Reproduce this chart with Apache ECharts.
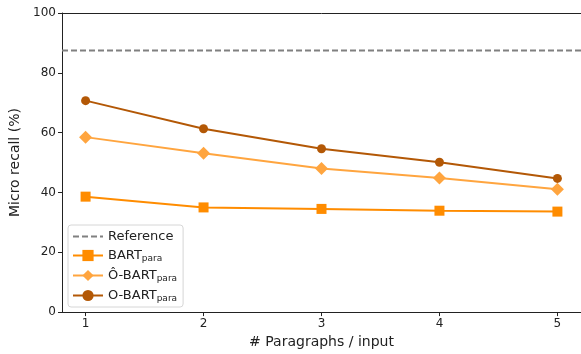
<!DOCTYPE html>
<html>
<head>
<meta charset="utf-8">
<script src="https://cdn.jsdelivr.net/npm/echarts@6/dist/echarts.min.js"></script>
<style>
  html, body { margin: 0; padding: 0; background: #fff; overflow: hidden; }
  #chart { width: 581px; height: 354px; }
</style>
</head>
<body>
<div id="chart"></div>
<script>
// paragraphs per input
const paragraphs = [1, 2, 3, 4, 5]
const xTicks = [1, 2, 3, 4, 5]
const referenceRecall = 87.5
const bartPara = [38.6, 35.0, 34.5, 33.9, 33.6]
const oHatBartPara = [58.5, 53.1, 48.0, 44.8, 41.1]
const oBartPara = [70.7, 61.3, 54.6, 50.1, 44.7]

const pairs = (vals) => paragraphs.map((p, i) => [p, vals[i]])

let dom = document.getElementById("chart")
let myChart = echarts.init(dom, null, { renderer: 'canvas' })
const font = 'DejaVu Sans'

var option = {
    animation: false,
    textStyle: { fontFamily: font },
    grid: {
        left: 62, right: 0, top: 13, bottom: 37,
        containLabel: false
    },
    legend: {
        orient: 'vertical',
        left: 68, top: 225,
        backgroundColor: '#fff',
        borderColor: '#d6d6d6',
        borderWidth: 1,
        borderRadius: 3,
        padding: [5, 6, 4, 4],
        itemWidth: 30,
        itemHeight: 14,
        itemGap: 6,
        textStyle: {
            fontSize: 13, color: '#222', fontFamily: font,
            rich: {
                sub: { fontSize: 9, verticalAlign: 'bottom', padding: [6, 0, 0, 0], color: '#222', fontFamily: font }
            }
        },
        formatter: function (name) {
            if (name === 'Reference') return name
            let base = name.replace('_para', '')
            return base + '{sub|para}'
        },
        data: [
            { name: 'Reference', itemStyle: { opacity: 0 } },
            'BART_para', 'Ô-BART_para', 'O-BART_para'
        ]
    },
    xAxis: [{
        type: 'value',
        min: 0.8, max: 5.2,
        name: '# Paragraphs / input',
        nameLocation: 'middle',
        nameGap: 22,
        nameTextStyle: { fontSize: 14, color: '#222' },
        axisLine: { show: true, lineStyle: { color: '#222' } },
        axisTick: { show: true, length: 4, customValues: xTicks, lineStyle: { color: '#222' } },
        axisLabel: { customValues: xTicks, fontSize: 12, color: '#222', margin: 6 },
        splitLine: { show: false }
    }, {
        // top spine only
        type: 'value',
        position: 'top',
        min: 0.8, max: 5.2,
        axisLine: { show: true, lineStyle: { color: '#222' } },
        axisTick: { show: false },
        axisLabel: { show: false },
        splitLine: { show: false }
    }],
    yAxis: {
        type: 'value',
        min: 0, max: 100, interval: 20,
        name: 'Micro recall (%)',
        nameLocation: 'middle',
        nameGap: 33,
        nameTextStyle: { fontSize: 14, color: '#222' },
        axisLine: { show: true, lineStyle: { color: '#222' } },
        axisTick: { show: true, length: 4, lineStyle: { color: '#222' } },
        axisLabel: { fontSize: 12, color: '#222', margin: 6 },
        splitLine: { show: false }
    },
    series: [
        {
            name: 'Reference',
            type: 'line',
            data: [[0.8, referenceRecall], [5.2, referenceRecall]],
            symbol: 'none',
            lineStyle: { color: '#808080', width: 2, type: [6, 3] },
            itemStyle: { color: '#808080' },
            z: 1
        },
        {
            name: 'BART_para',
            type: 'line',
            data: pairs(bartPara),
            symbol: 'rect',
            symbolSize: 10,
            lineStyle: { color: '#ff8c00', width: 2 },
            itemStyle: { color: '#ff8c00' }
        },
        {
            name: 'Ô-BART_para',
            type: 'line',
            data: pairs(oHatBartPara),
            symbol: 'diamond',
            symbolSize: 13,
            lineStyle: { color: '#ffa53f', width: 2 },
            itemStyle: { color: '#ffa53f' }
        },
        {
            name: 'O-BART_para',
            type: 'line',
            data: pairs(oBartPara),
            symbol: 'circle',
            symbolSize: 9,
            lineStyle: { color: '#b35806', width: 2 },
            itemStyle: { color: '#b35806' }
        }
    ]
}
myChart.setOption(option)
</script>
</body>
</html>
